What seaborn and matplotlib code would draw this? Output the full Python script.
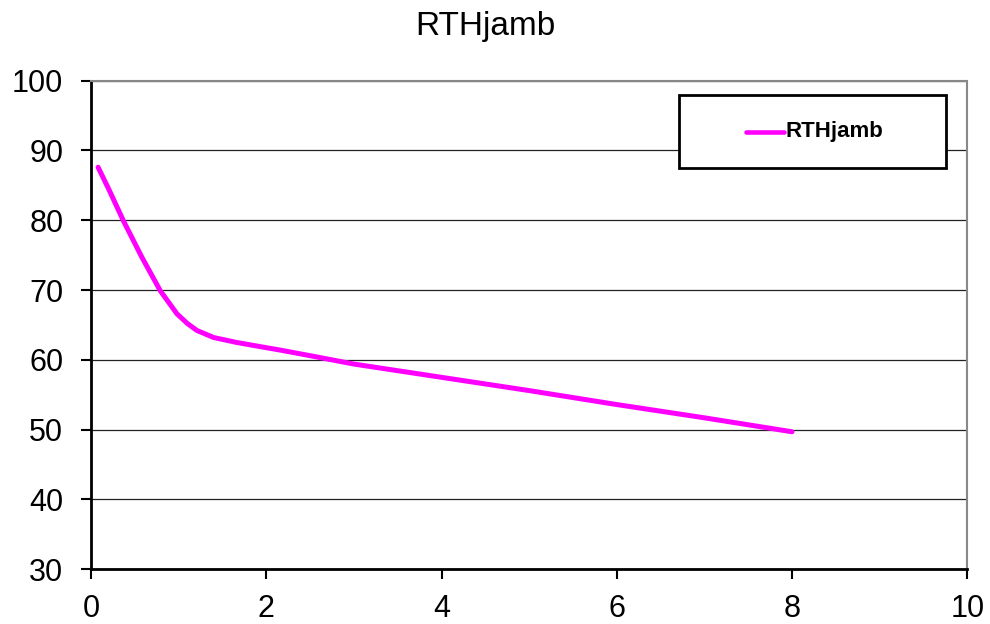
import numpy as np
import pandas as pd
import matplotlib
matplotlib.use('Agg')
import matplotlib.pyplot as plt
import seaborn as sns
from matplotlib.patches import Rectangle

sns.set_style('white')
plt.rcParams['font.family'] = ['Liberation Sans', 'DejaVu Sans']
plt.rcParams['text.color'] = 'black'
plt.rcParams['xtick.color'] = 'black'
plt.rcParams['ytick.color'] = 'black'

# values
x_vals = [0.08, 0.2, 0.37, 0.58, 0.79, 0.98, 1.1, 1.21, 1.4, 1.66, 1.93, 2.16,
          2.5, 3.0, 4.0, 5.0, 6.0, 7.0, 8.0]
y_vals = [87.6, 84.5, 79.9, 74.7, 69.9, 66.6, 65.2, 64.2, 63.2, 62.5, 61.9, 61.4,
          60.6, 59.4, 57.5, 55.6, 53.6, 51.7, 49.7]
series_name = 'RTHjamb'
x_ticks = [0, 2, 4, 6, 8, 10]
y_ticks = [30, 40, 50, 60, 70, 80, 90, 100]

df = pd.DataFrame({'x': x_vals, 'y': y_vals, 'series': series_name})

fig = plt.figure(figsize=(9.9, 6.24), dpi=100)
ax = fig.add_axes([0.092, 0.0877, 0.885, 0.783])

sns.lineplot(data=df, x='x', y='y', hue='series', palette=['#FF00FF'],
             sort=False, lw=3.6, ax=ax, legend=False, zorder=3)
ax.lines[0].set_solid_joinstyle('round')
ax.lines[0].set_solid_capstyle('round')

ax.set_xlim(0, 10)
ax.set_ylim(30, 100)
ax.set_xticks(x_ticks)
ax.set_yticks(y_ticks)
ax.tick_params(axis='both', labelsize=22, length=7, width=1.5, direction='out',
               color='black')
ax.tick_params(axis='y', left=True, pad=13)
ax.tick_params(axis='x', bottom=True, pad=10.5)
ax.set_xlabel('')
ax.set_ylabel('')

# horizontal gridlines only
ax.yaxis.grid(True, color='#222222', lw=0.9)
ax.xaxis.grid(False)

for side in ['left', 'bottom']:
    ax.spines[side].set_color('black')
    ax.spines[side].set_linewidth(2)
for side in ['top', 'right']:
    ax.spines[side].set_color('#888888')
    ax.spines[side].set_linewidth(1.5)

fig.text(0.4906, 0.944, 'RTHjamb', ha='center', va='baseline', fontsize=24)

# legend box
box = Rectangle((0.671, 0.821), 0.305, 0.15, transform=ax.transAxes,
                facecolor='white', edgecolor='black', lw=2, zorder=5)
ax.add_patch(box)
ax.plot([0.748, 0.791], [0.8956, 0.8956], transform=ax.transAxes,
        color='#FF00FF', lw=3.3, zorder=6)
ax.text(0.7925, 0.8956, series_name, transform=ax.transAxes, ha='left',
        va='center', fontsize=16, fontweight='bold', zorder=6)

fig.savefig('out.png', dpi=100)
